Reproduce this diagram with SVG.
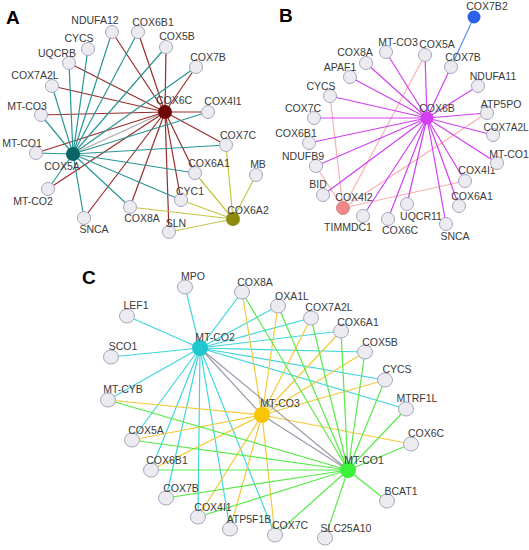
<svg xmlns="http://www.w3.org/2000/svg" width="529" height="550" viewBox="0 0 529 550">
<style>
text{font-family:"Liberation Sans",Arial,sans-serif;font-size:10.5px;fill:#3a3a3a;text-anchor:middle}
.pl{font-size:19px;font-weight:bold;fill:#000;text-anchor:start}
.n{fill:#ececf0;stroke:#a6a6c0;stroke-width:1}
line{stroke-width:1.2}
.ar{stroke:#9b2b2b}.at{stroke:#2a9595}.ay{stroke:#c5c545}.ag{stroke:#aaaaaa}
.bm{stroke:#d040f0}.bp{stroke:#f8b0b0}.bb{stroke:#5b8ef0}
.cc{stroke:#3fd6df}.cy{stroke:#f5c93a}.cg{stroke:#58ea48}.cx{stroke:#9a9aa8}
</style>
<rect width="529" height="550" fill="#fff"/>
<text class="pl" x="6" y="24">A</text>
<text class="pl" x="279" y="22">B</text>
<text class="pl" x="82" y="284">C</text>
<g id="connectors">
<g class="ar">
<line x1="165" y1="112" x2="112" y2="32"/><line x1="165" y1="112" x2="69" y2="63"/><line x1="165" y1="112" x2="52" y2="86"/><line x1="165" y1="112" x2="41" y2="115"/><line x1="165" y1="112" x2="36" y2="153"/><line x1="165" y1="112" x2="48" y2="189"/><line x1="165" y1="112" x2="84" y2="218"/><line x1="165" y1="112" x2="138" y2="32"/><line x1="165" y1="112" x2="166" y2="47"/><line x1="165" y1="112" x2="196" y2="67"/><line x1="165" y1="112" x2="208" y2="112"/><line x1="165" y1="112" x2="226" y2="145"/><line x1="165" y1="112" x2="195" y2="173"/><line x1="165" y1="112" x2="181" y2="200"/><line x1="165" y1="112" x2="130" y2="207"/><line x1="165" y1="112" x2="169" y2="232"/>
</g>
<g class="at">
<line x1="73" y1="154" x2="112" y2="32"/><line x1="73" y1="154" x2="88" y2="49"/><line x1="73" y1="154" x2="69" y2="63"/><line x1="73" y1="154" x2="52" y2="86"/><line x1="73" y1="154" x2="41" y2="115"/><line x1="73" y1="154" x2="36" y2="153"/><line x1="73" y1="154" x2="48" y2="189"/><line x1="73" y1="154" x2="84" y2="218"/><line x1="73" y1="154" x2="138" y2="32"/><line x1="73" y1="154" x2="166" y2="47"/><line x1="73" y1="154" x2="196" y2="67"/><line x1="73" y1="154" x2="208" y2="112"/><line x1="73" y1="154" x2="226" y2="145"/><line x1="73" y1="154" x2="195" y2="173"/><line x1="73" y1="154" x2="181" y2="200"/><line x1="73" y1="154" x2="130" y2="207"/>
</g>
<g class="ay">
<line x1="233" y1="219" x2="226" y2="145"/><line x1="233" y1="219" x2="195" y2="173"/><line x1="233" y1="219" x2="181" y2="200"/><line x1="233" y1="219" x2="130" y2="207"/><line x1="233" y1="219" x2="169" y2="232"/><line x1="233" y1="219" x2="256" y2="175"/>
</g>
<line class="ag" x1="73" y1="154" x2="165" y2="112"/>
<g class="bp">
<line x1="343" y1="208" x2="330" y2="96"/><line x1="343" y1="208" x2="425" y2="55"/><line x1="343" y1="208" x2="316" y2="166"/><line x1="343" y1="208" x2="487" y2="113"/><line x1="343" y1="208" x2="465" y2="181"/>
</g>
<g class="bm">
<line x1="427" y1="118" x2="386" y2="52"/><line x1="427" y1="118" x2="366" y2="63"/><line x1="427" y1="118" x2="350" y2="77"/><line x1="427" y1="118" x2="330" y2="96"/><line x1="427" y1="118" x2="314" y2="118"/><line x1="427" y1="118" x2="309" y2="143"/><line x1="427" y1="118" x2="316" y2="166"/><line x1="427" y1="118" x2="323" y2="195"/><line x1="427" y1="118" x2="363" y2="216"/><line x1="427" y1="118" x2="388" y2="219"/><line x1="427" y1="118" x2="407" y2="204"/><line x1="427" y1="118" x2="446" y2="224"/><line x1="427" y1="118" x2="459" y2="206"/><line x1="427" y1="118" x2="465" y2="181"/><line x1="427" y1="118" x2="497" y2="163"/><line x1="427" y1="118" x2="493" y2="135"/><line x1="427" y1="118" x2="487" y2="113"/><line x1="427" y1="118" x2="478" y2="86"/><line x1="427" y1="118" x2="451" y2="67"/><line x1="427" y1="118" x2="425" y2="55"/>
</g>
<line class="bb" x1="474" y1="17" x2="451" y2="67"/>
<g class="cc">
<line x1="200" y1="348" x2="185" y2="287"/><line x1="200" y1="348" x2="127" y2="316"/><line x1="200" y1="348" x2="111" y2="357"/><line x1="200" y1="348" x2="108" y2="400"/><line x1="200" y1="348" x2="242" y2="292"/><line x1="200" y1="348" x2="278" y2="306"/><line x1="200" y1="348" x2="311" y2="318"/><line x1="200" y1="348" x2="341" y2="331"/><line x1="200" y1="348" x2="365" y2="352"/><line x1="200" y1="348" x2="385" y2="380"/><line x1="200" y1="348" x2="406" y2="409"/><line x1="200" y1="348" x2="132" y2="440"/><line x1="200" y1="348" x2="151" y2="470"/><line x1="200" y1="348" x2="166" y2="498"/><line x1="200" y1="348" x2="198" y2="517"/><line x1="200" y1="348" x2="230" y2="529"/><line x1="200" y1="348" x2="275" y2="535"/>
</g>
<g class="cy">
<line x1="262" y1="415" x2="242" y2="292"/><line x1="262" y1="415" x2="278" y2="306"/><line x1="262" y1="415" x2="311" y2="318"/><line x1="262" y1="415" x2="341" y2="331"/><line x1="262" y1="415" x2="365" y2="352"/><line x1="262" y1="415" x2="385" y2="380"/><line x1="262" y1="415" x2="411" y2="444"/><line x1="262" y1="415" x2="108" y2="400"/><line x1="262" y1="415" x2="132" y2="440"/><line x1="262" y1="415" x2="151" y2="470"/><line x1="262" y1="415" x2="198" y2="517"/><line x1="262" y1="415" x2="230" y2="529"/><line x1="262" y1="415" x2="275" y2="535"/>
</g>
<g class="cg">
<line x1="348" y1="470" x2="242" y2="292"/><line x1="348" y1="470" x2="278" y2="306"/><line x1="348" y1="470" x2="311" y2="318"/><line x1="348" y1="470" x2="341" y2="331"/><line x1="348" y1="470" x2="365" y2="352"/><line x1="348" y1="470" x2="385" y2="380"/><line x1="348" y1="470" x2="406" y2="409"/><line x1="348" y1="470" x2="411" y2="444"/><line x1="348" y1="470" x2="387" y2="501"/><line x1="348" y1="470" x2="325" y2="538"/><line x1="348" y1="470" x2="275" y2="535"/><line x1="348" y1="470" x2="198" y2="517"/><line x1="348" y1="470" x2="166" y2="498"/><line x1="348" y1="470" x2="151" y2="470"/><line x1="348" y1="470" x2="132" y2="440"/><line x1="348" y1="470" x2="108" y2="400"/>
</g>
<g class="cx">
<line x1="200" y1="348" x2="262" y2="415"/><line x1="200" y1="348" x2="348" y2="470"/><line x1="262" y1="415" x2="348" y2="470"/>
</g>
</g>
<g id="A-COX6C"><circle cx="165" cy="112" r="7" fill="#6e0808"/><text x="174" y="104">COX6C</text></g>
<g id="A-COX5A"><circle cx="73" cy="154" r="7" fill="#0a6464"/><text x="62" y="170">COX5A</text></g>
<g id="A-COX6A2"><circle cx="233" cy="219" r="7" fill="#8c8c0c"/><text x="248" y="214">COX6A2</text></g>
<g id="A-NDUFA12"><circle class="n" cx="112" cy="32" r="6.5"/><text x="95" y="24">NDUFA12</text></g>
<g id="A-CYCS"><circle class="n" cx="88" cy="49" r="6.5"/><text x="79" y="42">CYCS</text></g>
<g id="A-UQCRB"><circle class="n" cx="69" cy="63" r="6.5"/><text x="57" y="57">UQCRB</text></g>
<g id="A-COX7A2L"><circle class="n" cx="52" cy="86" r="6.5"/><text x="35" y="79">COX7A2L</text></g>
<g id="A-MT-CO3"><circle class="n" cx="41" cy="115" r="6.5"/><text x="27" y="110">MT-CO3</text></g>
<g id="A-MT-CO1"><circle class="n" cx="36" cy="153" r="6.5"/><text x="22" y="147">MT-CO1</text></g>
<g id="A-MT-CO2"><circle class="n" cx="48" cy="189" r="6.5"/><text x="33" y="205">MT-CO2</text></g>
<g id="A-SNCA"><circle class="n" cx="84" cy="218" r="6.5"/><text x="94" y="233">SNCA</text></g>
<g id="A-COX6B1"><circle class="n" cx="138" cy="32" r="6.5"/><text x="153" y="26">COX6B1</text></g>
<g id="A-COX5B"><circle class="n" cx="166" cy="47" r="6.5"/><text x="177" y="40">COX5B</text></g>
<g id="A-COX7B"><circle class="n" cx="196" cy="67" r="6.5"/><text x="208" y="61">COX7B</text></g>
<g id="A-COX4I1"><circle class="n" cx="208" cy="112" r="6.5"/><text x="223" y="105">COX4I1</text></g>
<g id="A-COX7C"><circle class="n" cx="226" cy="145" r="6.5"/><text x="238" y="139">COX7C</text></g>
<g id="A-COX6A1"><circle class="n" cx="195" cy="173" r="6.5"/><text x="209" y="167">COX6A1</text></g>
<g id="A-MB"><circle class="n" cx="256" cy="175" r="6.5"/><text x="258" y="168">MB</text></g>
<g id="A-CYC1"><circle class="n" cx="181" cy="200" r="6.5"/><text x="190" y="195">CYC1</text></g>
<g id="A-COX8A"><circle class="n" cx="130" cy="207" r="6.5"/><text x="142" y="222">COX8A</text></g>
<g id="A-SLN"><circle class="n" cx="169" cy="232" r="6.5"/><text x="176" y="227">SLN</text></g>
<g id="B-COX6B"><circle cx="427" cy="118" r="6.5" fill="#d63cf2"/><text x="437" y="112">COX6B</text></g>
<g id="B-COX7B2"><circle cx="474" cy="17" r="6.5" fill="#2b62ea"/><text x="487" y="10">COX7B2</text></g>
<g id="B-COX4I2"><circle cx="343" cy="208" r="6.5" fill="#f08888" stroke="#c88" stroke-width="1"/><text x="354" y="201">COX4I2</text></g>
<g id="B-MT-CO3"><circle class="n" cx="386" cy="52" r="6.5"/><text x="398" y="46">MT-CO3</text></g>
<g id="B-COX8A"><circle class="n" cx="366" cy="63" r="6.5"/><text x="355" y="56">COX8A</text></g>
<g id="B-APAF1"><circle class="n" cx="350" cy="77" r="6.5"/><text x="340" y="71">APAF1</text></g>
<g id="B-CYCS"><circle class="n" cx="330" cy="96" r="6.5"/><text x="321" y="90">CYCS</text></g>
<g id="B-COX7C"><circle class="n" cx="314" cy="118" r="6.5"/><text x="303" y="112">COX7C</text></g>
<g id="B-COX6B1"><circle class="n" cx="309" cy="143" r="6.5"/><text x="296" y="137">COX6B1</text></g>
<g id="B-NDUFB9"><circle class="n" cx="316" cy="166" r="6.5"/><text x="303" y="160">NDUFB9</text></g>
<g id="B-BID"><circle class="n" cx="323" cy="195" r="6.5"/><text x="318" y="188">BID</text></g>
<g id="B-TIMMDC1"><circle class="n" cx="363" cy="216" r="6.5"/><text x="348" y="231">TIMMDC1</text></g>
<g id="B-COX6C"><circle class="n" cx="388" cy="219" r="6.5"/><text x="400" y="234">COX6C</text></g>
<g id="B-UQCR11"><circle class="n" cx="407" cy="204" r="6.5"/><text x="421" y="220">UQCR11</text></g>
<g id="B-SNCA"><circle class="n" cx="446" cy="224" r="6.5"/><text x="455" y="240">SNCA</text></g>
<g id="B-COX6A1"><circle class="n" cx="459" cy="206" r="6.5"/><text x="472" y="200">COX6A1</text></g>
<g id="B-COX4I1"><circle class="n" cx="465" cy="181" r="6.5"/><text x="477" y="174">COX4I1</text></g>
<g id="B-MT-CO1"><circle class="n" cx="497" cy="163" r="6.5"/><text x="509" y="158">MT-CO1</text></g>
<g id="B-COX7A2L"><circle class="n" cx="493" cy="135" r="6.5"/><text x="506" y="131" style="font-size:10px">COX7A2L</text></g>
<g id="B-ATP5PO"><circle class="n" cx="487" cy="113" r="6.5"/><text x="501" y="108">ATP5PO</text></g>
<g id="B-NDUFA11"><circle class="n" cx="478" cy="86" r="6.5"/><text x="493" y="80">NDUFA11</text></g>
<g id="B-COX7B"><circle class="n" cx="451" cy="67" r="6.5"/><text x="463" y="61">COX7B</text></g>
<g id="B-COX5A"><circle class="n" cx="425" cy="55" r="6.5"/><text x="437" y="48">COX5A</text></g>
<g id="C-MT-CO2"><circle cx="200" cy="348" r="8" fill="#1fc8cf"/><text x="215" y="341">MT-CO2</text></g>
<g id="C-MT-CO3"><circle cx="262" cy="415" r="8" fill="#f8c600"/><text x="280" y="407">MT-CO3</text></g>
<g id="C-MT-CO1"><circle cx="348" cy="470" r="8" fill="#3df03a"/><text x="364" y="464">MT-CO1</text></g>
<g id="C-MPO"><ellipse class="n" cx="185" cy="287" rx="7.5" ry="7"/><text x="193" y="280">MPO</text></g>
<g id="C-COX8A"><ellipse class="n" cx="242" cy="292" rx="7.5" ry="7"/><text x="255" y="286">COX8A</text></g>
<g id="C-LEF1"><ellipse class="n" cx="127" cy="316" rx="7.5" ry="7"/><text x="136" y="309">LEF1</text></g>
<g id="C-SCO1"><ellipse class="n" cx="111" cy="357" rx="7.5" ry="7"/><text x="123" y="350">SCO1</text></g>
<g id="C-MT-CYB"><ellipse class="n" cx="108" cy="400" rx="7.5" ry="7"/><text x="123" y="393">MT-CYB</text></g>
<g id="C-OXA1L"><ellipse class="n" cx="278" cy="306" rx="7.5" ry="7"/><text x="292" y="300">OXA1L</text></g>
<g id="C-COX7A2L"><ellipse class="n" cx="311" cy="318" rx="7.5" ry="7"/><text x="329" y="311">COX7A2L</text></g>
<g id="C-COX6A1"><ellipse class="n" cx="341" cy="331" rx="7.5" ry="7"/><text x="358" y="326">COX6A1</text></g>
<g id="C-COX5B"><ellipse class="n" cx="365" cy="352" rx="7.5" ry="7"/><text x="380" y="346">COX5B</text></g>
<g id="C-CYCS"><ellipse class="n" cx="385" cy="380" rx="7.5" ry="7"/><text x="397" y="373">CYCS</text></g>
<g id="C-MTRF1L"><ellipse class="n" cx="406" cy="409" rx="7.5" ry="7"/><text x="417" y="402">MTRF1L</text></g>
<g id="C-COX6C"><ellipse class="n" cx="411" cy="444" rx="7.5" ry="7"/><text x="426" y="437">COX6C</text></g>
<g id="C-BCAT1"><ellipse class="n" cx="387" cy="501" rx="7.5" ry="7"/><text x="401" y="495">BCAT1</text></g>
<g id="C-SLC25A10"><ellipse class="n" cx="325" cy="538" rx="7.5" ry="7"/><text x="346" y="532">SLC25A10</text></g>
<g id="C-COX7C"><ellipse class="n" cx="275" cy="535" rx="7.5" ry="7"/><text x="290" y="529">COX7C</text></g>
<g id="C-ATP5F1B"><ellipse class="n" cx="230" cy="529" rx="7.5" ry="7"/><text x="249" y="523">ATP5F1B</text></g>
<g id="C-COX4I1"><ellipse class="n" cx="198" cy="517" rx="7.5" ry="7"/><text x="213" y="511">COX4I1</text></g>
<g id="C-COX7B"><ellipse class="n" cx="166" cy="498" rx="7.5" ry="7"/><text x="181" y="492">COX7B</text></g>
<g id="C-COX6B1"><ellipse class="n" cx="151" cy="470" rx="7.5" ry="7"/><text x="167" y="464">COX6B1</text></g>
<g id="C-COX5A"><ellipse class="n" cx="132" cy="440" rx="7.5" ry="7"/><text x="146" y="434">COX5A</text></g>
</svg>
